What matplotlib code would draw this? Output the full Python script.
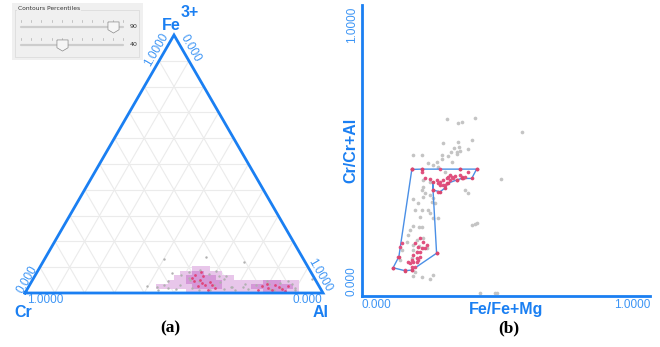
import numpy as np
import matplotlib
matplotlib.use("Agg")
import matplotlib.pyplot as plt
from matplotlib.colors import ListedColormap, BoundaryNorm

# ---------------------------------------------------------------
# datos
# ---------------------------------------------------------------
# ternario (a): fracciones Al y Fe3+ (Cr = 1 - Al - Fe)
tern_gray_al = [0.400, 0.537, 0.675, 0.396, 0.936, 0.454, 0.505, 0.529, 0.633, 0.683,
                0.721, 0.782, 0.836, 0.896, 0.543, 0.456, 0.615, 0.432, 0.641, 0.814,
                0.47, 0.50, 0.55, 0.58, 0.62, 0.66, 0.70, 0.74, 0.76, 0.80,
                0.85, 0.88, 0.90, 0.52, 0.58, 0.62, 0.49, 0.56, 0.60, 0.45,
                0.51, 0.64, 0.44, 0.68, 0.72, 0.79, 0.86, 0.83]
tern_gray_fe = [0.132, 0.140, 0.120, 0.027, 0.054, 0.078, 0.031, 0.050, 0.043, 0.023,
                0.035, 0.027, 0.039, 0.019, 0.089, 0.047, 0.012, 0.023, 0.066, 0.016,
                0.020, 0.015, 0.020, 0.010, 0.030, 0.015, 0.010, 0.015, 0.030, 0.035,
                0.020, 0.035, 0.010, 0.060, 0.075, 0.065, 0.070, 0.045, 0.085, 0.030,
                0.080, 0.055, 0.010, 0.025, 0.025, 0.045, 0.045, 0.010]
tern_pink_al = [0.535, 0.562, 0.589, 0.567, 0.600, 0.628, 0.531, 0.564, 0.608, 0.575,
                0.552, 0.612, 0.545,
                0.782, 0.806, 0.823, 0.854, 0.869, 0.823, 0.776, 0.868, 0.795, 0.840]
tern_pink_fe = [0.070, 0.050, 0.031, 0.027, 0.043, 0.019, 0.058, 0.066, 0.012, 0.040,
                0.080, 0.030, 0.045,
                0.027, 0.019, 0.031, 0.016, 0.027, 0.012, 0.012, 0.008, 0.035, 0.022]
percentiles = [90, 40]

# dispersión (b): Fe/Fe+Mg vs Cr/Cr+Al
gray_x = [0.294, 0.332, 0.346, 0.392, 0.555, 0.282, 0.332, 0.381, 0.337, 0.319,
          0.369, 0.178, 0.209, 0.279, 0.308, 0.329, 0.340, 0.298, 0.329, 0.311,
          0.259, 0.277, 0.230, 0.248, 0.265, 0.288, 0.482, 0.213, 0.236, 0.213,
          0.207, 0.219, 0.236, 0.178, 0.213, 0.248, 0.242, 0.253, 0.195, 0.207,
          0.230, 0.236, 0.184, 0.201, 0.248, 0.265, 0.358, 0.369, 0.178, 0.198,
          0.207, 0.167, 0.381, 0.392, 0.398, 0.161, 0.155, 0.190, 0.213, 0.178,
          0.199, 0.211, 0.225, 0.178, 0.190, 0.173, 0.138, 0.132, 0.184, 0.207,
          0.248, 0.236, 0.178, 0.410, 0.462, 0.468]
gray_y = [0.607, 0.593, 0.597, 0.611, 0.565, 0.527, 0.528, 0.535, 0.513, 0.508,
          0.504, 0.485, 0.485, 0.485, 0.494, 0.496, 0.499, 0.482, 0.488, 0.462,
          0.462, 0.470, 0.456, 0.450, 0.444, 0.426, 0.401, 0.399, 0.393, 0.376,
          0.364, 0.355, 0.347, 0.332, 0.341, 0.336, 0.324, 0.319, 0.319, 0.296,
          0.296, 0.286, 0.296, 0.273, 0.267, 0.267, 0.364, 0.353, 0.241, 0.236,
          0.236, 0.227, 0.244, 0.247, 0.250, 0.210, 0.187, 0.192, 0.198, 0.175,
          0.172, 0.164, 0.164, 0.158, 0.152, 0.130, 0.158, 0.124, 0.084, 0.066,
          0.072, 0.057, 0.070, 0.009, 0.009, 0.009]
pink_x = [0.173, 0.207, 0.207, 0.271, 0.340, 0.398, 0.369, 0.219, 0.236, 0.259,
          0.265, 0.271, 0.282, 0.294, 0.300, 0.306, 0.311, 0.317, 0.323, 0.329,
          0.340, 0.346, 0.352, 0.358, 0.271, 0.282, 0.294, 0.248, 0.265, 0.288,
          0.306,
          0.201, 0.213, 0.184, 0.195, 0.207, 0.219, 0.225, 0.190, 0.201, 0.178,
          0.173, 0.178, 0.190, 0.167, 0.173, 0.190, 0.195, 0.201, 0.161, 0.184,
          0.138, 0.132, 0.149, 0.173, 0.259, 0.109, 0.126]
pink_y = [0.435, 0.435, 0.427, 0.435, 0.435, 0.435, 0.427, 0.404, 0.401, 0.399,
          0.387, 0.393, 0.399, 0.404, 0.410, 0.416, 0.410, 0.404, 0.412, 0.399,
          0.416, 0.408, 0.404, 0.410, 0.381, 0.381, 0.387, 0.364, 0.358, 0.381,
          0.399,
          0.198, 0.187, 0.181, 0.170, 0.164, 0.164, 0.175, 0.152, 0.152, 0.141,
          0.124, 0.118, 0.118, 0.112, 0.101, 0.130, 0.124, 0.133, 0.118, 0.101,
          0.181, 0.170, 0.089, 0.089, 0.147, 0.097, 0.135]
hull_x = [0.173, 0.207, 0.340, 0.398, 0.381, 0.346, 0.330, 0.299, 0.288, 0.271,
          0.247, 0.245, 0.259, 0.173, 0.149, 0.108, 0.128, 0.173]
hull_y = [0.435, 0.436, 0.436, 0.436, 0.404, 0.404, 0.399, 0.388, 0.371, 0.358,
          0.364, 0.393, 0.147, 0.089, 0.087, 0.097, 0.135, 0.435]

BLUE = "#1a7ff2"
TICK_BLUE = "#3d95f5"
LABEL_FONT = ["Liberation Sans", "DejaVu Sans"]
H = np.sqrt(3) / 2


def to_xy(al, fe):
    al = np.asarray(al)
    fe = np.asarray(fe)
    return al + fe / 2, fe * H


fig = plt.figure(figsize=(6.6, 3.47), dpi=100)

# ---------------------------------------------------------------
# (a) diagrama ternario
# ---------------------------------------------------------------
ax = fig.add_axes([25 / 660, 54 / 347, 298 / 660, 258 / 347])
ax.set_xlim(0, 1)
ax.set_ylim(0, H)
ax.axis("off")

for i in range(1, 10):
    t = i / 10
    ax.plot([t / 2, 1 - t / 2], [t * H, t * H], color="#ebebeb", lw=0.8, zorder=1)
    ax.plot([t, t + (1 - t) / 2], [0, (1 - t) * H], color="#ebebeb", lw=0.8, zorder=1)
    ax.plot([1 - t, (1 - t) / 2], [0, (1 - t) * H], color="#ebebeb", lw=0.8, zorder=1)

# densidad por celdas, niveles a partir de los percentiles
all_x, all_y = to_xy(tern_gray_al + tern_pink_al, tern_gray_fe + tern_pink_fe)
xe = np.arange(0, 1.0001, 0.02)
ye = np.arange(0, 0.2, 0.015)
xc = (xe[:-1] + xe[1:]) / 2
yc = (ye[:-1] + ye[1:]) / 2
XX, YY = np.meshgrid(xc, yc)


def dens(px, py):
    return np.exp(-((px[..., None] - all_x) / 0.035) ** 2 / 2
                  - ((py[..., None] - all_y) / 0.018) ** 2 / 2).sum(-1)


D = dens(XX, YY)
dp = dens(all_x, all_y)
lev_out = np.percentile(dp, 100 - percentiles[0])
lev_in = np.percentile(dp, 100 - percentiles[1] - 10)
inside = (YY < 2 * H * XX) & (YY < 2 * H * (1 - XX))
D = np.ma.masked_where((D < lev_out) | ~inside, D)
cmap = ListedColormap(["#e8c6ea", "#d598d8"])
norm = BoundaryNorm([lev_out, lev_in, D.max() + 1], 2)
ax.pcolormesh(xe, ye, D, cmap=cmap, norm=norm, zorder=2)

gx, gy = to_xy(tern_gray_al, tern_gray_fe)
ax.scatter(gx, gy, s=3, color="#b0b0b0", lw=0, zorder=3)
px_, py_ = to_xy(tern_pink_al, tern_pink_fe)
ax.scatter(px_, py_, s=4, color="#e0457b", lw=0, zorder=4)

ax.plot([0, 1, 0.5, 0], [0, 0, H, 0], color=BLUE, lw=2, zorder=5,
        solid_joinstyle="miter", clip_on=False)

tk = dict(color=TICK_BLUE, fontsize=8.5, family=LABEL_FONT, clip_on=False)
ax.text(0.007, -0.022, "1.0000", ha="left", va="center", **tk)
ax.text(0.997, -0.022, "0.000", ha="right", va="center", **tk)
ax.text(0.440, 0.815, "1.0000", ha="center", va="center", rotation=60, **tk)
ax.text(0.557, 0.822, "0.000", ha="center", va="center", rotation=-60, **tk)
ax.text(0.007, 0.046, "0.000", ha="center", va="center", rotation=60, **tk)
ax.text(0.990, 0.060, "1.0000", ha="center", va="center", rotation=-60, **tk)

lb = dict(color=BLUE, fontsize=11.5, fontweight="bold", family=LABEL_FONT, clip_on=False)
ax.text(0.492, 0.898, "Fe", ha="center", va="center", **lb)
ax.text(0.553, 0.940, "3+", ha="center", va="center", **lb)
ax.text(-0.005, -0.067, "Cr", ha="center", va="center", **lb)
ax.text(0.993, -0.067, "Al", ha="center", va="center", **lb)

# ---------------------------------------------------------------
# (b) dispersión
# ---------------------------------------------------------------
ax2 = fig.add_axes([362 / 660, 51 / 347, 288 / 660, 291 / 347])
ax2.set_xlim(0, 1)
ax2.set_ylim(0, 1)
ax2.set_xticks([])
ax2.set_yticks([])
for s in ["top", "right"]:
    ax2.spines[s].set_visible(False)
for s in ["left", "bottom"]:
    ax2.spines[s].set_color(BLUE)
    ax2.spines[s].set_linewidth(2)

ax2.scatter(gray_x, gray_y, s=7, color="#c4c4c4", lw=0, zorder=2, clip_on=False)
ax2.plot(hull_x, hull_y, color="#4a8fe6", lw=1, zorder=3)
ax2.scatter(pink_x, pink_y, s=7, color="#e0507e", lw=0, zorder=4)
ax2.scatter(hull_x, hull_y, s=7, color="#d9466f", lw=0, zorder=5)

ax2.text(0, -0.012, "0.000", ha="left", va="top", transform=ax2.transAxes, **tk)
ax2.text(1, -0.012, "1.0000", ha="right", va="top", transform=ax2.transAxes, **tk)
ax2.text(-0.035, 0.995, "1.0000", ha="center", va="top", rotation=90,
         transform=ax2.transAxes, **tk)
ax2.text(-0.035, 0.0, "0.000", ha="center", va="bottom", rotation=90,
         transform=ax2.transAxes, **tk)
ax2.text(0.5, -0.045, "Fe/Fe+Mg", ha="center", va="center",
         transform=ax2.transAxes, **lb)
ax2.text(-0.04, 0.5, "Cr/Cr+Al", ha="center", va="center", rotation=90,
         transform=ax2.transAxes, **lb)

# etiquetas de panel
fig.text(170 / 660, 1 - 328 / 347, "(a)", ha="center", va="center",
         fontsize=12.5, fontweight="bold", family="Liberation Serif")
fig.text(509 / 660, 1 - 328 / 347, "(b)", ha="center", va="center",
         fontsize=12.5, fontweight="bold", family="Liberation Serif")

# ---------------------------------------------------------------
# recuadro de controles
# ---------------------------------------------------------------
box = fig.add_axes([12 / 660, 1 - 60 / 347, 131 / 660, 57 / 347])
box.set_xlim(12, 143)
box.set_ylim(60, 3)
box.set_facecolor("#f0f0f0")
box.set_xticks([])
box.set_yticks([])
for s in box.spines.values():
    s.set_visible(False)
box.plot([15, 15, 139, 139, 15], [10, 57, 57, 10, 10], color="#dcdcdc", lw=0.6)
box.text(18, 9, "Contours Percentiles", fontsize=4.3, va="center", ha="left",
         color="#333333", bbox=dict(fc="#f0f0f0", ec="none", pad=0.5))
thumb = [(-1, 1), (1, 1), (1, -0.4), (0, -1), (-1, -0.4), (-1, 1)]
for val, yy in zip(percentiles, [27, 45]):
    box.plot([21, 123], [yy, yy], color="#cdcdcd", lw=1.6, solid_capstyle="round")
    for k in range(11):
        box.plot([21 + 10.2 * k] * 2, [yy - 7, yy - 5.5], color="#b0b0b0", lw=0.5)
    box.plot([21 + 1.02 * val], [yy], marker=thumb, ms=8, mfc="#f6f6f6",
             mec="#8a8a8a", mew=0.5)
    box.text(130, yy, str(val), fontsize=4.5, va="center", ha="left", color="#333333")

fig.savefig("out.png", dpi=100)
